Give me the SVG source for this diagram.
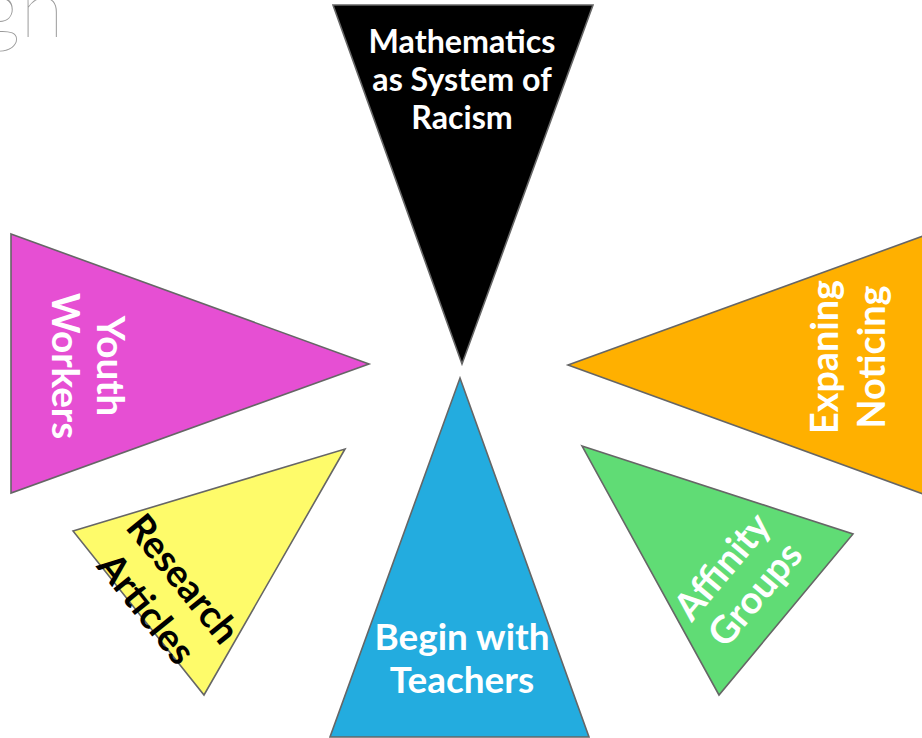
<svg xmlns="http://www.w3.org/2000/svg" width="922" height="738" viewBox="0 0 922 738">
<style>
.tri{stroke:#666666;stroke-width:1.6;stroke-linejoin:miter}
.lbl{font-family:Lato,"Liberation Sans",sans-serif;font-weight:700;text-anchor:middle}
.w{fill:#ffffff}
.k{fill:#000000}
.title{font-family:Lato,"Liberation Sans",sans-serif;font-weight:100;fill:#9a9a9a}
</style>
<rect width="922" height="738" fill="#ffffff"/>
<text class="title" x="-20" y="37" font-size="80">gn</text>
<g id="node-math">
<polygon class="tri" points="333,5 593,5 462,364" fill="#000000"/>
<text class="lbl w" font-size="32.2"><tspan x="462" y="53">Mathematics</tspan><tspan x="462" y="91">as System of</tspan><tspan x="462" y="129">Racism</tspan></text>
</g>
<g id="node-youth">
<polygon class="tri" points="11,234 369,364 11,493" fill="#e64fd3"/>
<text class="lbl w" font-size="38.6" transform="translate(97,366) rotate(90)"><tspan x="0" y="0">Youth</tspan><tspan x="0" y="45">Workers</tspan></text>
</g>
<g id="node-expaning">
<polygon class="tri" points="568,365 926,235 926,495" fill="#ffb000"/>
<text class="lbl w" font-size="37.7" transform="translate(838.3,357) rotate(-90)"><tspan x="0" y="0">Expaning</tspan><tspan x="0" y="46.7">Noticing</tspan></text>
</g>
<g id="node-research">
<polygon class="tri" points="73,531 345,449 204,695" fill="#fefb6a"/>
<text class="lbl k" font-size="38" transform="translate(165,593.5) rotate(51)"><tspan x="0" y="-10">Research</tspan><tspan x="0" y="37">Articles</tspan></text>
</g>
<g id="node-teachers">
<polygon class="tri" points="460,378 589,737 330,737" fill="#23acdf"/>
<text class="lbl w" font-size="36.9"><tspan x="462" y="650">Begin with</tspan><tspan x="462" y="693">Teachers</tspan></text>
</g>
<g id="node-affinity">
<polygon class="tri" points="582,446 853,534 719,695" fill="#60dc75"/>
<text class="lbl w" font-size="38" transform="translate(738.3,580) rotate(-50)"><tspan x="0" y="-8">Affinity</tspan><tspan x="0" y="35">Groups</tspan></text>
</g>
<g id="connectors"></g>
</svg>
